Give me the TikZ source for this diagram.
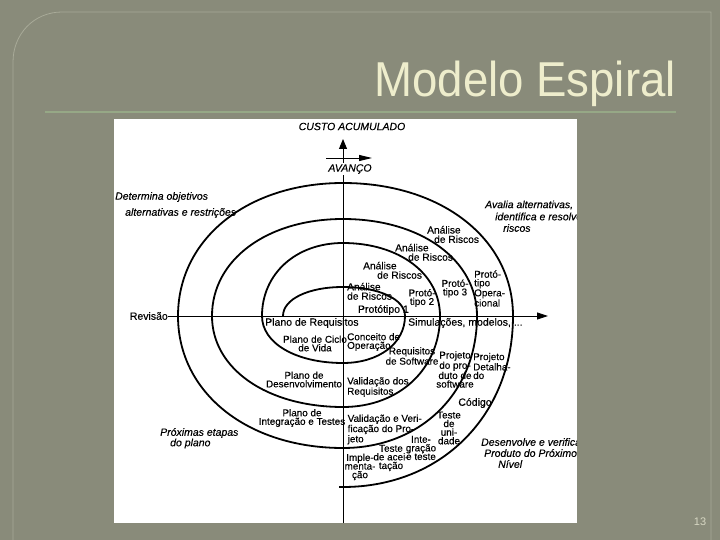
\documentclass[tikz,border=0pt]{standalone}
\usepackage{fontspec}
\setmainfont{Liberation Sans}
\newfontfamily\dfont{Liberation Sans}[FakeBold=0.3]
\usetikzlibrary{arrows.meta}
\definecolor{bgc}{RGB}{137,139,122}
\definecolor{framec}{RGB}{168,170,152}
\definecolor{sepc}{RGB}{150,168,134}
\definecolor{titlec}{RGB}{238,237,204}
\definecolor{numc}{RGB}{215,215,195}
\begin{document}
\begin{tikzpicture}[x=1pt,y=-1pt,
  txt/.style={font=\dfont\fontsize{10.5}{9}\selectfont, inner sep=0pt, align=center},
  risk/.style={font=\dfont\fontsize{10.2}{9.4}\selectfont, inner sep=0pt, align=left, anchor=west},
  tight/.style={font=\dfont\fontsize{9.9}{8.6}\selectfont, inner sep=0pt},
  itl/.style={font=\dfont\fontsize{10.5}{11}\selectfont\itshape, inner sep=0pt},
  spiralline/.style={line width=1.8pt, black},
  axisline/.style={line width=0.9pt, black}]
\useasboundingbox (0,0) rectangle (720,540);
\clip (0,0) rectangle (720,540);
\fill[bgc] (0,0) rectangle (720,540);
\draw[framec, line width=0.8pt] (13,545) -- (13,62) .. controls (13,34) and (34,12) .. (62,12) -- (711,12) -- (711,545);
\draw[sepc, line width=2pt] (45,112) -- (676,112);
% title
\node[anchor=base east, inner sep=0pt, text=titlec, font=\fontsize{49}{49}\selectfont] (title) at (676,97) {\scalebox{0.93}[1]{Modelo Espiral}};
\node[inner sep=0pt, text=numc, font=\fontsize{11}{11}\selectfont] (pagenum) at (700,522) {13};
% picture area
\fill[white] (114,119) rectangle (577,523);
\begin{scope}
\clip (114,119) rectangle (577,523);
% axes
\coordinate (O) at (343,316);
\coordinate (vtop) at (343,139);
\coordinate (vbot) at (343,523);
\coordinate (htip) at (548,316);
\coordinate (avA) at (326,158);
\coordinate (avB) at (372,158);
\node[txt, anchor=east] (revisao) at (168,316) {Revisão};
\draw[axisline, -{Triangle[length=10pt,width=8pt]}] (vbot) -- (vtop);
\draw[axisline, -{Triangle[length=11pt,width=7pt]}] (revisao.east) -- (htip);
\draw[axisline, -{Triangle[length=13pt,width=6pt]}] (avA) -- (avB);
\node[itl] (custo) at (352,126.5) {CUSTO ACUMULADO};
\node[itl, fill=white, inner sep=1pt] (avanco) at (350,169) {AVANÇO};
% spiral
\draw[spiralline] (283,316)
  .. controls (283,299.2) and (308.2,287) .. (343,287)
  .. controls (379,287) and (405,299.2) .. (405,316)
  .. controls (405,343.3) and (379,363) .. (343,363)
  .. controls (296,363) and (262,343.3) .. (262,316)
  .. controls (262,273.7) and (296,243) .. (343,243)
  .. controls (399.3,243) and (440,273.7) .. (440,316)
  .. controls (440,368.8) and (399.3,407) .. (343,407)
  .. controls (267,407) and (212,368.8) .. (212,316)
  .. controls (212,259.7) and (267,219) .. (343,219)
  .. controls (420.7,219) and (477,259.7) .. (477,316)
  .. controls (477,392.6) and (420.7,448) .. (343,448)
  .. controls (247.3,448) and (178,392.6) .. (178,316)
  .. controls (178,238.9) and (247.3,183) .. (343,183)
  .. controls (441.6,183) and (513,238.9) .. (513,316)
  .. controls (513,415.2) and (441.6,487) .. (343,487)
  -- (339,487);
% quadrant labels
\node[itl, anchor=west] (det1) at (115,197) {Determina objetivos};
\node[itl, anchor=west] (det2) at (125,213) {alternativas e restrições};
\node[itl, anchor=west] (aval1) at (485,205) {Avalia alternativas,};
\node[itl, anchor=west] (aval2) at (495,216.5) {identifica e resolve};
\node[itl, anchor=west] (aval3) at (503,228) {riscos};
\node[itl, anchor=west] (prox1) at (160,433) {Próximas etapas};
\node[itl, anchor=west] (prox2) at (170,443.5) {do plano};
\node[itl, anchor=west] (des1) at (481,442) {Desenvolve e verifica};
\node[itl, anchor=west] (des2) at (484,453) {Produto do Próximo};
\node[itl, anchor=west] (des3) at (498,464) {Nível};
% risk analysis
\node[risk] (anaA) at (427,234.5) {Análise\\\hspace*{7pt}de Riscos};
\node[risk] (anaB) at (395,252.3) {Análise\\\hspace*{13pt}de Riscos};
\node[risk] (anaC) at (363,270.3) {Análise\\\hspace*{14pt}de Riscos};
\node[risk] (anaD) at (347,291.3) {Análise\\de Riscos};
% prototypes
\node[txt, anchor=east] (prot1) at (409,310) {Protótipo 1};
\node[tight, align=center] (prot2) at (422,298) {Protó-\\tipo 2};
\node[tight, align=center] (prot3) at (455,288.5) {Protó-\\tipo 3};
\node[tight, align=left, anchor=west] (protop) at (474,288.5) {Protó-\\tipo\\Opera-\\cional};
\node[txt, anchor=west] (simul) at (408,323) {Simulações, modelos, ...};
% planning / development
\node[txt, anchor=west] (planreq) at (265,323) {Plano de Requisitos};
\node[tight, align=center] (ciclo) at (315,343.5) {Plano de Ciclo\\de Vida};
\node[tight, align=left, anchor=west] (conceito) at (347,342) {Conceito de\\Operação};
\node[tight, align=center] (reqsw) at (412,356) {Requisitos\\de Software};
\node[tight, align=center] (projprod) at (455,369.5) {Projeto\\do pro-\\duto de\\software};
\node[tight, align=left, anchor=west] (projdet) at (473,366) {Projeto\\Detalha-\\do};
\node[txt] (codigo) at (475,403) {Código};
\node[tight, align=left, anchor=west] (valreq) at (347,387) {Validação dos\\Requisitos};
\node[tight, align=center] (plandes) at (304,379.5) {Plano de\\Desenvolvimento};
\node[tight, align=center] (planint) at (302,418) {Plano de\\Integração e Testes};
\node[tight, align=left, anchor=west] (valver) at (347.5,429.5) {Validação e Veri-\\ficação do Pro-\\jeto};
\node[tight, align=center] (testeuni) at (449,428) {Teste\\de\\uni-\\dade};
\node[tight, align=center] (integ) at (421,448) {Inte-\\gração\\e teste};
\node[tight, align=center] (testeac) at (391,458) {Teste\\de acei-\\tação};
\node[tight, align=center] (implem) at (360,467) {Imple-\\menta-\\ção};
\end{scope}
\end{tikzpicture}
\end{document}
